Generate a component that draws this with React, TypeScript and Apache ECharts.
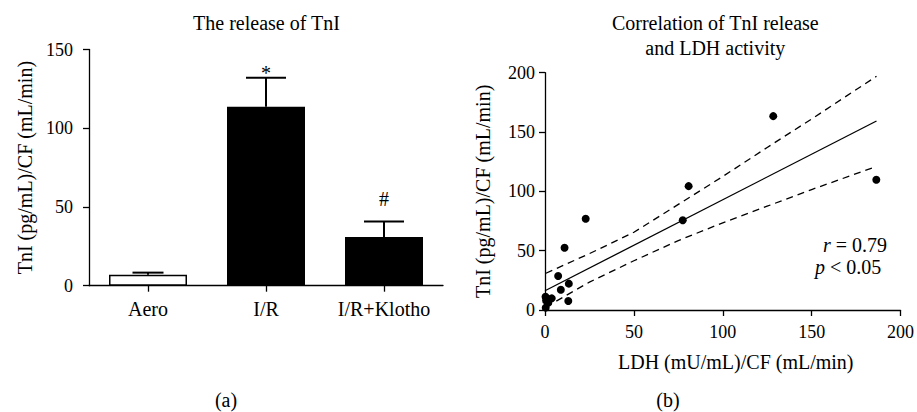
import React, { useEffect, useRef } from "react";
import * as echarts from "echarts";

// ---- Panel (a): TnI release ----
const categories = ["Aero", "I/R", "I/R+Klotho"];
const tniMean = [7, 113.6, 31];
const tniSem = [1.3, 18.4, 9.7];
const sigMarks = ["", "*", "#"];

// ---- Panel (b): correlation scatter ----
const ldh = [128.4, 186.4, 80.8, 77.5, 22.9, 11.0, 7.4, 13.4, 8.9, 13.1, 3.8, 0.3, 0.6, 1.8, 0.4, 2.6];
const tni = [163.4, 109.8, 104.4, 75.6, 76.9, 52.5, 28.6, 22.2, 17.0, 7.6, 9.8, 11.2, 8.0, 6.0, 2.0, 9.0];
const fitLdh = [0, 186.5];
const fitTni = [16.2, 159.3];
const bandLdh = [0.5, 25, 50, 75, 100, 125, 150, 186.5];
const bandUpper = [31, 47.5, 65.5, 89, 112.5, 137, 161, 197];
const bandLower = [2.5, 23.5, 41.5, 58.5, 73.5, 87.5, 101.5, 121];

// styles
const FONT = '"Liberation Serif", "Times New Roman", serif';
const barFills = ["#ffffff", "#000000", "#000000"];
const capWidths = [31, 40, 40];
const markOffsets = [0, 5, 23];

export default function App() {
  const ref = useRef<HTMLDivElement>(null);
  useEffect(() => {
    if (!ref.current) return;
    const chart = echarts.init(ref.current, null, { renderer: "svg" });
    const axisLine = { show: true, lineStyle: { color: "#000", width: 1.3 } };
    const axisTick = { show: true, length: 6, lineStyle: { color: "#000", width: 1.3 } };
    const tickLabel = { color: "#000", fontFamily: FONT, fontSize: 18 };
    const nameStyle = { color: "#000", fontFamily: FONT, fontSize: 20 };

    const option: any = {
      animation: false,
      backgroundColor: "#ffffff",
      grid: [
        { left: 89, top: 49.5, width: 354, height: 236.2 },
        { left: 545, top: 72.7, width: 355.7, height: 237.3 },
      ],
      xAxis: [
        {
          type: "category",
          gridIndex: 0,
          data: categories,
          axisLine,
          axisTick: { ...axisTick, alignWithLabel: true },
          axisLabel: { ...tickLabel, fontSize: 20, margin: 13, interval: 0 },
        },
        {
          type: "value",
          gridIndex: 1,
          min: 0,
          max: 200,
          interval: 50,
          axisLine,
          axisTick,
          splitLine: { show: false },
          axisLabel: { ...tickLabel, margin: 13 },
          name: "LDH (mU/mL)/CF (mL/min)",
          nameLocation: "middle",
          nameGap: 42,
          nameTextStyle: { ...nameStyle, padding: [0, 0, 0, 26] },
        },
      ],
      yAxis: [
        {
          type: "value",
          gridIndex: 0,
          min: 0,
          max: 150,
          interval: 50,
          axisLine,
          axisTick,
          splitLine: { show: false },
          axisLabel: { ...tickLabel, margin: 16 },
          name: "TnI (pg/mL)/CF (mL/min)",
          nameLocation: "middle",
          nameGap: 54,
          nameTextStyle: nameStyle,
        },
        {
          type: "value",
          gridIndex: 1,
          min: 0,
          max: 200,
          interval: 50,
          axisLine,
          axisTick,
          splitLine: { show: false },
          axisLabel: { ...tickLabel, margin: 10 },
          name: "TnI (pg/mL)/CF (mL/min)",
          nameLocation: "middle",
          nameGap: 52,
          nameTextStyle: nameStyle,
        },
      ],
      series: [
        {
          type: "bar",
          xAxisIndex: 0,
          yAxisIndex: 0,
          barWidth: 78,
          data: tniMean.map((v, i) => ({
            value: v,
            itemStyle: { color: barFills[i], borderColor: "#000", borderWidth: 1.5 },
          })),
          z: 2,
        },
        {
          type: "custom",
          xAxisIndex: 0,
          yAxisIndex: 0,
          z: 3,
          encode: { x: 0, y: 1 },
          data: tniMean.map((v, i) => [i, v, tniSem[i]]),
          renderItem: (params: any, api: any) => {
            const i = api.value(0);
            const v = api.value(1);
            const e = api.value(2);
            const p0 = api.coord([i, v]);
            const p1 = api.coord([i, v + e]);
            const half = capWidths[i] / 2;
            const children: any[] = [
              {
                type: "line",
                shape: { x1: p0[0], y1: p0[1], x2: p1[0], y2: p1[1] },
                style: { stroke: "#000", lineWidth: 2 },
              },
              {
                type: "line",
                shape: { x1: p1[0] - half, y1: p1[1], x2: p1[0] + half, y2: p1[1] },
                style: { stroke: "#000", lineWidth: 2 },
              },
            ];
            if (sigMarks[i]) {
              children.push({
                type: "text",
                x: p1[0],
                y: p1[1] - markOffsets[i],
                style: {
                  text: sigMarks[i],
                  fill: "#000",
                  font: `20px ${FONT}`,
                  align: "center",
                  verticalAlign: "middle",
                  textAlign: "center",
                  textVerticalAlign: "middle",
                },
              });
            }
            return { type: "group", children };
          },
        },
        {
          type: "line",
          xAxisIndex: 1,
          yAxisIndex: 1,
          data: bandLdh.map((x, i) => [x, bandUpper[i]]),
          symbol: "none",
          lineStyle: { color: "#000", width: 1.3, type: [7, 5] },
          z: 2,
        },
        {
          type: "line",
          xAxisIndex: 1,
          yAxisIndex: 1,
          data: bandLdh.map((x, i) => [x, bandLower[i]]),
          symbol: "none",
          lineStyle: { color: "#000", width: 1.3, type: [7, 5] },
          z: 2,
        },
        {
          type: "line",
          xAxisIndex: 1,
          yAxisIndex: 1,
          data: fitLdh.map((x, i) => [x, fitTni[i]]),
          symbol: "none",
          lineStyle: { color: "#000", width: 1.3 },
          z: 2,
        },
        {
          type: "scatter",
          xAxisIndex: 1,
          yAxisIndex: 1,
          data: ldh.map((x, i) => [x, tni[i]]),
          symbolSize: 8,
          itemStyle: { color: "#000", opacity: 1 },
          z: 4,
        },
      ],
      graphic: [
        {
          type: "text",
          x: 266.5,
          y: 22.7,
          style: { text: "The release of TnI", font: `20px ${FONT}`, fill: "#000", align: "center", verticalAlign: "middle" },
        },
        {
          type: "text",
          x: 715.3,
          y: 22.7,
          style: { text: "Correlation of TnI release", font: `20px ${FONT}`, fill: "#000", align: "center", verticalAlign: "middle" },
        },
        {
          type: "text",
          x: 715.3,
          y: 47.7,
          style: { text: "and LDH activity", font: `20px ${FONT}`, fill: "#000", align: "center", verticalAlign: "middle" },
        },
        {
          type: "text",
          x: 823,
          y: 245,
          style: {
            text: "{i|r} = 0.79",
            font: `20px ${FONT}`,
            fill: "#000",
            align: "left",
            verticalAlign: "middle",
            rich: { i: { fontStyle: "italic", fontFamily: FONT, fontSize: 20, fill: "#000" } },
          },
        },
        {
          type: "text",
          x: 815,
          y: 267,
          style: {
            text: "{i|p} < 0.05",
            font: `20px ${FONT}`,
            fill: "#000",
            align: "left",
            verticalAlign: "middle",
            rich: { i: { fontStyle: "italic", fontFamily: FONT, fontSize: 20, fill: "#000" } },
          },
        },
        {
          type: "text",
          x: 226,
          y: 400,
          style: { text: "(a)", font: `20px ${FONT}`, fill: "#000", align: "center", verticalAlign: "middle" },
        },
        {
          type: "text",
          x: 668,
          y: 400,
          style: { text: "(b)", font: `20px ${FONT}`, fill: "#000", align: "center", verticalAlign: "middle" },
        },
      ],
    };
    chart.setOption(option);
    return () => chart.dispose();
  }, []);
  return (
    <div
      ref={ref}
      style={{ position: "fixed", left: 0, top: 0, width: 917, height: 412, background: "#fff" }}
    />
  );
}
